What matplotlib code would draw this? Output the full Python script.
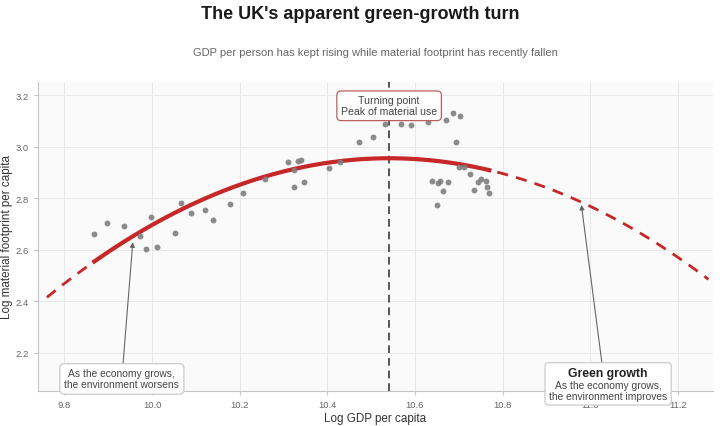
import numpy as np
import matplotlib
matplotlib.use("Agg")
import matplotlib.pyplot as plt
from matplotlib.patches import FancyBboxPatch
from matplotlib.transforms import Bbox, IdentityTransform

plt.rcParams['font.family'] = ['Liberation Sans', 'DejaVu Sans']

# UK: log GDP per capita vs log material footprint per capita
log_gdp = [9.868, 9.898, 9.937, 9.972, 9.987, 9.998, 10.011, 10.052, 10.066, 10.088,
           10.120, 10.140, 10.178, 10.207, 10.257, 10.311, 10.324, 10.324, 10.334, 10.339,
           10.347, 10.405, 10.428, 10.473, 10.504, 10.531, 10.569, 10.591, 10.631, 10.670,
           10.687, 10.704, 10.694, 10.700, 10.713, 10.725, 10.639, 10.653, 10.658, 10.676,
           10.665, 10.651, 10.745, 10.752, 10.763, 10.765, 10.770, 10.735]
log_mf = [2.660, 2.706, 2.693, 2.654, 2.603, 2.726, 2.610, 2.666, 2.783, 2.742,
          2.755, 2.717, 2.777, 2.821, 2.876, 2.940, 2.844, 2.910, 2.944, 2.950,
          2.863, 2.919, 2.942, 3.021, 3.037, 3.089, 3.089, 3.087, 3.097, 3.104,
          3.132, 3.122, 3.021, 2.922, 2.922, 2.896, 2.866, 2.859, 2.868, 2.863,
          2.828, 2.776, 2.863, 2.876, 2.868, 2.844, 2.821, 2.831]

x_ext = (9.76, 11.27)   # extrapolation range of the fitted curve

x = np.array(log_gdp)
y = np.array(log_mf)
coef = np.polyfit(x, y, 2)
turn_x = -coef[1] / (2 * coef[0])

red = '#c62828'
grey_txt = '#444444'
arrow_kw = dict(arrowstyle='-|>', color='#666666', lw=0.8, mutation_scale=7,
                shrinkA=0, shrinkB=0)

fig = plt.figure(figsize=(7.2, 4.27), dpi=100)
ax = fig.add_axes([0.053, 0.082, 0.937, 0.724])
ax.set_facecolor('#fafafb')

xs_all = np.linspace(x_ext[0], x_ext[1], 300)
xs_in = np.linspace(x.min(), x.max(), 200)
ax.plot(xs_all, np.polyval(coef, xs_all), color=red, lw=2, ls=(0, (4, 3)), zorder=2)
ax.plot(xs_in, np.polyval(coef, xs_in), color=red, lw=3, zorder=3)
ax.scatter(x, y, s=18, color='#7f7f7f', alpha=0.9, zorder=4, linewidths=0)
ax.axvline(turn_x, color='#555555', lw=1.4, ls=(0, (4, 2.5)), zorder=1)

ax.set_xlim(9.74, 11.28)
ax.set_ylim(2.052, 3.253)
ax.set_xticks([9.8, 10.0, 10.2, 10.4, 10.6, 10.8, 11.0, 11.2])
ax.set_yticks([2.2, 2.4, 2.6, 2.8, 3.0, 3.2])
ax.grid(True, color='#e8e8e8', lw=0.7)
ax.set_axisbelow(True)
for s in ['top', 'right']:
    ax.spines[s].set_visible(False)
for s in ['left', 'bottom']:
    ax.spines[s].set_color('#c4c4c4')
ax.tick_params(colors='#666666', labelsize=6.8, length=3, color='#c4c4c4')

ax.text(turn_x, 3.16, 'Turning point\nPeak of material use', ha='center', va='center',
        fontsize=7.6, color=grey_txt, zorder=6, linespacing=1.15,
        bbox=dict(boxstyle='round,pad=0.4', fc='white', ec='#b86060', lw=0.9))

ax.annotate('As the economy grows,\nthe environment worsens', xy=(9.956, 2.630),
            xytext=(9.931, 2.099), ha='center', va='center', fontsize=7.4, color=grey_txt,
            linespacing=1.15,
            bbox=dict(boxstyle='round,pad=0.45', fc='white', ec='#cccccc', lw=0.9),
            arrowprops=arrow_kw, zorder=6)

# green growth box: bold heading + two lines, one shared rounded box
ax.annotate('', xy=(10.98, 2.775), xytext=(11.03, 2.12), arrowprops=arrow_kw, zorder=5)
t_body = ax.text(11.041, 2.054, 'As the economy grows,\nthe environment improves',
                 ha='center', va='center', fontsize=7.4, color=grey_txt, linespacing=1.15,
                 zorder=8, clip_on=False)
t_head = ax.annotate('Green growth', xy=(11.041, 2.054), xytext=(0, 12.8),
                     textcoords='offset points', ha='center', va='center', fontsize=8.8,
                     fontweight='bold', color='#222222', zorder=8, annotation_clip=False)

ax.set_xlabel('Log GDP per capita', fontsize=8.4, color='#333333', labelpad=2)
ax.set_ylabel('Log material footprint per capita', fontsize=8.4, color='#333333')
ax.yaxis.set_label_coords(-0.038, 0.5)
ax.set_title('GDP per person has kept rising while material footprint has recently fallen',
             fontsize=8, color='#666666', pad=19)
fig.suptitle("The UK's apparent green-growth turn", fontsize=13, fontweight='bold',
             color='#1a1a1a', y=0.985)

# box size taken from the rendered text extents (display coords)
fig.canvas.draw()
r = fig.canvas.get_renderer()
bb = Bbox.union([t_body.get_window_extent(r), t_head.get_window_extent(r)])
box = FancyBboxPatch((bb.x0, bb.y0), bb.width, bb.height,
                     boxstyle='round,pad=4,rounding_size=4', transform=IdentityTransform(),
                     fc='white', ec='#cccccc', lw=0.9, zorder=7, clip_on=False)
ax.add_artist(box)

fig.savefig('out.png', dpi=100)
